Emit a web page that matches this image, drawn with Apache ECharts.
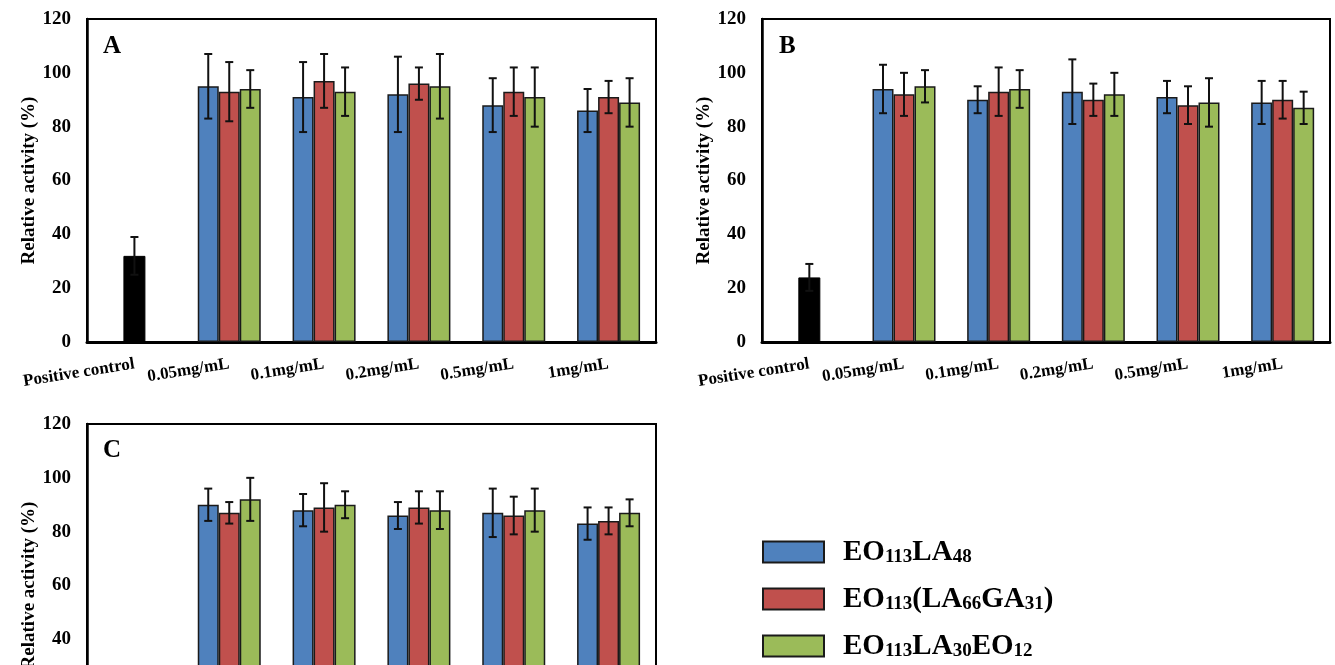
<!DOCTYPE html>
<html>
<head>
<meta charset="utf-8">
<script src="https://cdn.jsdelivr.net/npm/echarts@6/dist/echarts.min.js"></script>
<style>
  html, body { margin: 0; padding: 0; background: #fff; }
  #main { width: 1335px; height: 665px; }
</style>
</head>
<body>
<div id="main"></div>
<script>
// categories / names
const categories = ['Positive control', '0.05mg/mL', '0.1mg/mL', '0.2mg/mL', '0.5mg/mL', '1mg/mL']
const seriesNames = ['EO113LA48', 'EO113(LA66GA31)', 'EO113LA30EO12']
const yTicks = [0, 20, 40, 60, 80, 100, 120]

// panel A
const ctrlA = [32, '-', '-', '-', '-', '-']
const ctrlErrA = [7, '-', '-', '-', '-', '-']
const a1 = ['-', 95, 91, 92, 88, 86]
const a1Err = ['-', 12, 13, 14, 10, 8]
const a2 = ['-', 93, 97, 96, 93, 91]
const a2Err = ['-', 11, 10, 6, 9, 6]
const a3 = ['-', 94, 93, 95, 91, 89]
const a3Err = ['-', 7, 9, 12, 11, 9]

// panel B
const ctrlB = [24, '-', '-', '-', '-', '-']
const ctrlErrB = [5, '-', '-', '-', '-', '-']
const b1 = ['-', 94, 90, 93, 91, 89]
const b1Err = ['-', 9, 5, 12, 6, 8]
const b2 = ['-', 92, 93, 90, 88, 90]
const b2Err = ['-', 8, 9, 6, 7, 7]
const b3 = ['-', 95, 94, 92, 89, 87]
const b3Err = ['-', 6, 7, 8, 9, 6]

// panel C (control bar lies below the cut-off edge of the figure)
const ctrlC = ['-', '-', '-', '-', '-', '-']
const ctrlErrC = ['-', '-', '-', '-', '-', '-']
const c1 = ['-', 90, 88, 86, 87, 83]
const c1Err = ['-', 6, 6, 5, 9, 6]
const c2 = ['-', 87, 89, 89, 86, 84]
const c2Err = ['-', 4, 9, 6, 7, 5]
const c3 = ['-', 92, 90, 88, 88, 87]
const c3Err = ['-', 8, 5, 7, 8, 5]

const colors = ['#4F81BD', '#C0504D', '#9BBB59']
const FONT = 'Liberation Serif, Times New Roman, serif'
const BAR_W = 21

const panels = [
  { letter: 'A', grid: { left: 87, top: 19, width: 569, height: 323 }, lt: [103, 34],
    ctrl: ctrlA, ctrlErr: ctrlErrA, vals: [a1, a2, a3], errs: [a1Err, a2Err, a3Err] },
  { letter: 'B', grid: { left: 762, top: 19, width: 568, height: 323 }, lt: [779, 34],
    ctrl: ctrlB, ctrlErr: ctrlErrB, vals: [b1, b2, b3], errs: [b1Err, b2Err, b3Err] },
  { letter: 'C', grid: { left: 87, top: 424, width: 569, height: 323 }, lt: [103, 438],
    ctrl: ctrlC, ctrlErr: ctrlErrC, vals: [c1, c2, c3], errs: [c1Err, c2Err, c3Err] }
]

function errorBars(name, xIdx, yIdx, vals, errs, shift) {
  const data = []
  vals.forEach((v, i) => {
    if (v !== '-') data.push([i, v, errs[i]])
  })
  return {
    type: 'custom',
    name: name,
    xAxisIndex: xIdx,
    yAxisIndex: yIdx,
    z: 10,
    silent: true,
    data: data,
    renderItem: function(params, api) {
      const c = api.value(0)
      const hi = api.coord([c, api.value(1) + api.value(2)])
      const lo = api.coord([c, api.value(1) - api.value(2)])
      const x = hi[0] + shift
      const st = { stroke: '#111', lineWidth: 2 }
      return {
        type: 'group',
        children: [
          { type: 'line', shape: { x1: x, y1: hi[1], x2: x, y2: lo[1] }, style: st },
          { type: 'line', shape: { x1: x - 4, y1: hi[1], x2: x + 4, y2: hi[1] }, style: st },
          { type: 'line', shape: { x1: x - 4, y1: lo[1], x2: x + 4, y2: lo[1] }, style: st }
        ]
      }
    }
  }
}

const grids = []
const xAxes = []
const yAxes = []
const titles = []
const series = []

panels.forEach((p, g) => {
  grids.push(Object.assign({
    show: true, borderColor: '#000', borderWidth: 2, outerBoundsMode: 'none', containLabel: false
  }, p.grid))
  titles.push({
    text: p.letter, left: p.lt[0], top: p.lt[1], padding: 0,
    textStyle: { fontFamily: FONT, fontWeight: 'bold', fontSize: 25, color: '#000' }
  })
  xAxes.push({
    type: 'category', gridIndex: g, data: categories,
    axisLine: { lineStyle: { color: '#000', width: 3 } },
    axisTick: { inside: true, length: 5, lineStyle: { color: '#000', width: 2 } },
    axisLabel: {
      interval: 0, rotate: 9, margin: 22, color: '#000',
      fontFamily: FONT, fontWeight: 'bold', fontSize: 17
    }
  })
  // second hidden axis so the control bar sits alone in the middle of its slot
  xAxes.push({ type: 'category', gridIndex: g, data: categories, show: false })
  yAxes.push({
    type: 'value', gridIndex: g, min: 0, max: 120, interval: 20,
    name: 'Relative activity (%)', nameLocation: 'middle', nameGap: 48,
    nameTextStyle: { fontFamily: FONT, fontWeight: 'bold', fontSize: 19, color: '#000' },
    axisLine: { show: true, lineStyle: { color: '#000', width: 2.5 } },
    axisTick: { show: false },
    splitLine: { show: false },
    axisLabel: {
      margin: 16, color: '#000', fontFamily: FONT, fontWeight: 'bold', fontSize: 19,
      formatter: v => (yTicks.indexOf(v) >= 0 ? v : '')
    }
  })

  p.vals.forEach((vals, k) => {
    series.push({
      type: 'bar', name: seriesNames[k], xAxisIndex: g * 2, yAxisIndex: g,
      data: vals, barWidth: BAR_W, barGap: '0%',
      itemStyle: { color: colors[k], borderColor: '#1a1a1a', borderWidth: 1.5 }
    })
  })
  series.push({
    type: 'bar', name: 'Positive control', xAxisIndex: g * 2 + 1, yAxisIndex: g,
    data: p.ctrl, barWidth: 22,
    itemStyle: { color: '#000', borderColor: '#000', borderWidth: 1 }
  })
})

panels.forEach((p, g) => {
  p.vals.forEach((vals, k) => {
    series.push(errorBars(seriesNames[k], g * 2, g, vals, p.errs[k], (k - 1) * BAR_W))
  })
  series.push(errorBars('Positive control', g * 2 + 1, g, p.ctrl, p.ctrlErr, 0))
})

const chart = echarts.init(document.getElementById('main'))
chart.setOption({
  animation: false,
  backgroundColor: '#fff',
  title: titles,
  grid: grids,
  xAxis: xAxes,
  yAxis: yAxes,
  legend: {
    data: seriesNames,
    orient: 'vertical',
    left: 762,
    top: 538,
    height: 126,
    padding: 0,
    itemWidth: 61,
    itemHeight: 21,
    itemGap: 18,
    icon: 'rect',
    formatter: function(name) {
      return name.split(/(\d+)/).filter(Boolean)
        .map(s => (/\d/.test(s) ? '{s|' + s + '}' : '{n|' + s + '}')).join('')
    },
    textStyle: {
      padding: [0, 0, 0, 14],
      rich: {
        n: { fontFamily: FONT, fontWeight: 'bold', fontSize: 29, lineHeight: 30, color: '#000', verticalAlign: 'bottom' },
        s: { fontFamily: FONT, fontWeight: 'bold', fontSize: 19, lineHeight: 18, color: '#000', verticalAlign: 'bottom' }
      }
    }
  },
  series: series
})
</script>
</body>
</html>
